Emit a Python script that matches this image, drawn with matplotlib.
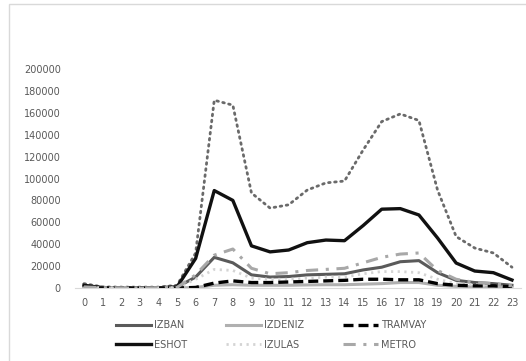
import matplotlib
matplotlib.use("Agg")
import matplotlib.pyplot as plt
from matplotlib.patches import Rectangle

hours = list(range(24))

izban = [1500, 500, 300, 300, 300, 800, 10000, 28000, 23000, 12000, 10000, 10500,
         12000, 12500, 13000, 16500, 19000, 24000, 25000, 14000, 7000, 5000, 4000, 2500]
izdeniz = [0, 0, 0, 0, 0, 0, 500, 2500, 3000, 2500, 2500, 2500,
           2800, 3000, 3000, 3500, 4000, 5000, 5000, 2500, 1500, 1000, 1000, 500]
tramvay = [0, 0, 0, 0, 0, 0, 500, 4500, 6500, 5000, 5000, 5500,
           6000, 6500, 7000, 8000, 8000, 7500, 7500, 4000, 2500, 2000, 2000, 1000]
eshot = [2500, 300, 200, 200, 200, 1000, 27000, 89000, 80000, 38500, 33000, 34700,
         41400, 43800, 43200, 57000, 72000, 72500, 66700, 45700, 22800, 15500, 14000, 7300]
izulas = [500, 200, 200, 200, 200, 300, 8000, 17000, 16000, 9000, 8000, 8000,
          9000, 10000, 10000, 13000, 15000, 15000, 14000, 8000, 4000, 3000, 2000, 1000]
metro = [1000, 300, 200, 200, 200, 500, 12000, 30000, 35600, 18000, 13000, 14000,
         16000, 17000, 18000, 23000, 28000, 31000, 32000, 16000, 8000, 5000, 4000, 2000]
toplam = [4000, 1000, 800, 800, 800, 2500, 32000, 171500, 167000, 86800, 73000, 76000,
          89500, 96000, 97700, 126000, 152000, 159000, 153000, 89500, 47000, 36500, 32000, 19000]

fig = plt.figure(figsize=(5.26, 3.61), dpi=100)
ax = fig.add_axes([0.142, 0.2022, 0.849, 0.6066])

# outer chart frame, open to the right and bottom
fig.patches.append(Rectangle((9.5 / 526, -0.1), 1.2, 1 - 3.5 / 361 + 0.1,
                             transform=fig.transFigure, fill=False,
                             edgecolor="#d9d9d9", lw=1.0))

ax.plot(hours, toplam, color="#6a6a6a", lw=2.0, linestyle=(0, (0.6, 1.6)),
        dash_capstyle="round")
l_izban, = ax.plot(hours, izban, color="#5a5a5a", lw=2.2, label="IZBAN")
l_eshot, = ax.plot(hours, eshot, color="#111111", lw=2.4, label="ESHOT")
l_izdeniz, = ax.plot(hours, izdeniz, color="#b0b0b0", lw=2.2, label="IZDENIZ")
l_izulas, = ax.plot(hours, izulas, color="#d4d4d4", lw=2.0, linestyle=(0, (0.8, 1.6)),
                    label="IZULAS")
l_tramvay, = ax.plot(hours, tramvay, color="#000000", lw=2.4, linestyle=(0, (3, 1.5)),
                     label="TRAMVAY")
l_metro, = ax.plot(hours, metro, color="#a8a8a8", lw=2.2,
                   linestyle=(0, (4, 2.5, 1, 2.5)), label="METRO")

ax.set_xlim(-0.5, 23.5)
ax.set_ylim(0, 200000)
ax.set_xticks(hours)
ax.set_yticks(range(0, 200001, 20000))
for s in ["top", "right", "left"]:
    ax.spines[s].set_visible(False)
ax.spines["bottom"].set_color("#d9d9d9")
ax.tick_params(length=0, labelsize=7, colors="#595959", pad=7)
ax.tick_params(axis="y", pad=10)

fig.legend(handles=[l_izban, l_eshot, l_izdeniz, l_izulas, l_tramvay, l_metro],
           ncol=3, loc="center", bbox_to_anchor=(0.515, 0.072), frameon=False,
           fontsize=7, labelcolor="#595959", handlelength=3.6, columnspacing=4.0,
           handletextpad=0.3, labelspacing=1.0)

fig.savefig("out.png", dpi=100)
